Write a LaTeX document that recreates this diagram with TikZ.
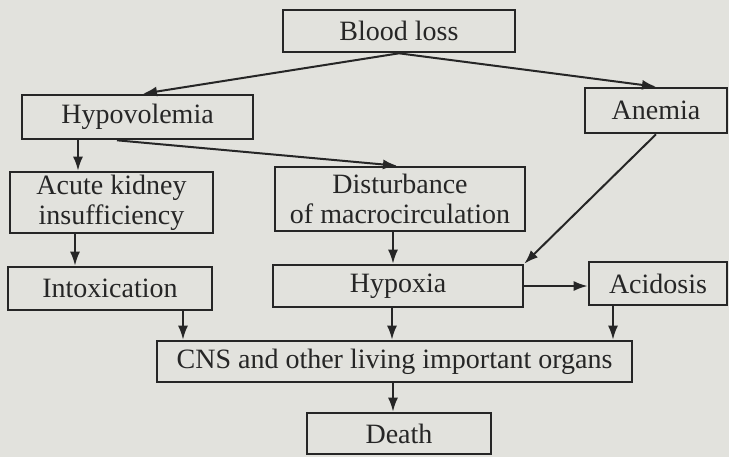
\documentclass[tikz,border=0pt]{standalone}
\usepackage{fontspec}
\setmainfont{Liberation Serif}
\usepackage{tikz}
\usetikzlibrary{arrows.meta}

\definecolor{paper}{RGB}{226,226,221}
\definecolor{ink}{RGB}{38,38,38}

\tikzset{
  box/.style={draw=ink, line width=1.3pt, text=ink, inner sep=0pt, align=center,
    font=\fontsize{14}{15}\selectfont},
  arr/.style={draw=ink, line width=1pt, -{Latex[length=7pt,width=5pt]}}
}

\begin{document}
\begin{tikzpicture}[x=0.5pt, y=-0.5pt]

\fill[paper] (0,0) rectangle (729,457);
\useasboundingbox (0,0) rectangle (729,457);

\node[box, minimum width=116pt, minimum height=21pt] (blood) at (399,31) {Blood loss};
\node[box, minimum width=115.5pt, minimum height=22pt] (hypo) at (137.5,117) {Hypovolemia};
\node[box, minimum width=71pt, minimum height=22.5pt] (anemia) at (656,110.5) {Anemia};
\node[box, minimum width=101.5pt, minimum height=30.5pt] (kidney) at (111.5,202.5) {Acute kidney\\insufficiency};
\node[box, minimum width=125pt, minimum height=32pt] (macro) at (400,199) {Disturbance\\of macrocirculation};
\node[box, minimum width=102pt, minimum height=21.5pt] (intox) at (110,288.5) {Intoxication};
\node[box, minimum width=125pt, minimum height=21pt] (hypoxia) at (398,286) {Hypoxia};
\node[box, minimum width=69pt, minimum height=21.5pt] (acid) at (658,283.5) {Acidosis};
\node[box, minimum width=237.5pt, minimum height=20.5pt] (cns) at (394.5,361.5) {CNS and other living important organs};
\node[box, minimum width=92pt, minimum height=20.5pt] (death) at (399,433.5) {Death};

\draw[arr] (blood.south) -- (hypo.north -| 143,0);
\draw[arr] (blood.south) -- (anemia.north);
\draw[arr] (hypo.south -| 78,0) -- (kidney.north -| 78,0);
\draw[arr] (hypo.south -| 117,0) -- (macro.north -| 397,0);
\draw[arr] (kidney.south -| 75,0) -- (intox.north -| 75,0);
\draw[arr] (macro.south -| 393,0) -- (hypoxia.north -| 393,0);
\draw[arr] (anemia.south) -- (hypoxia.north east);
\draw[arr] (hypoxia.east) -- (hypoxia.east -| acid.west);

\foreach \xpos/\from in {183/intox, 392/hypoxia, 613/acid}
  \draw[arr] (\from.south -| \xpos,0) -- (cns.north -| \xpos,0);
\draw[arr] (cns.south -| 393,0) -- (death.north -| 393,0);

\end{tikzpicture}
\end{document}
